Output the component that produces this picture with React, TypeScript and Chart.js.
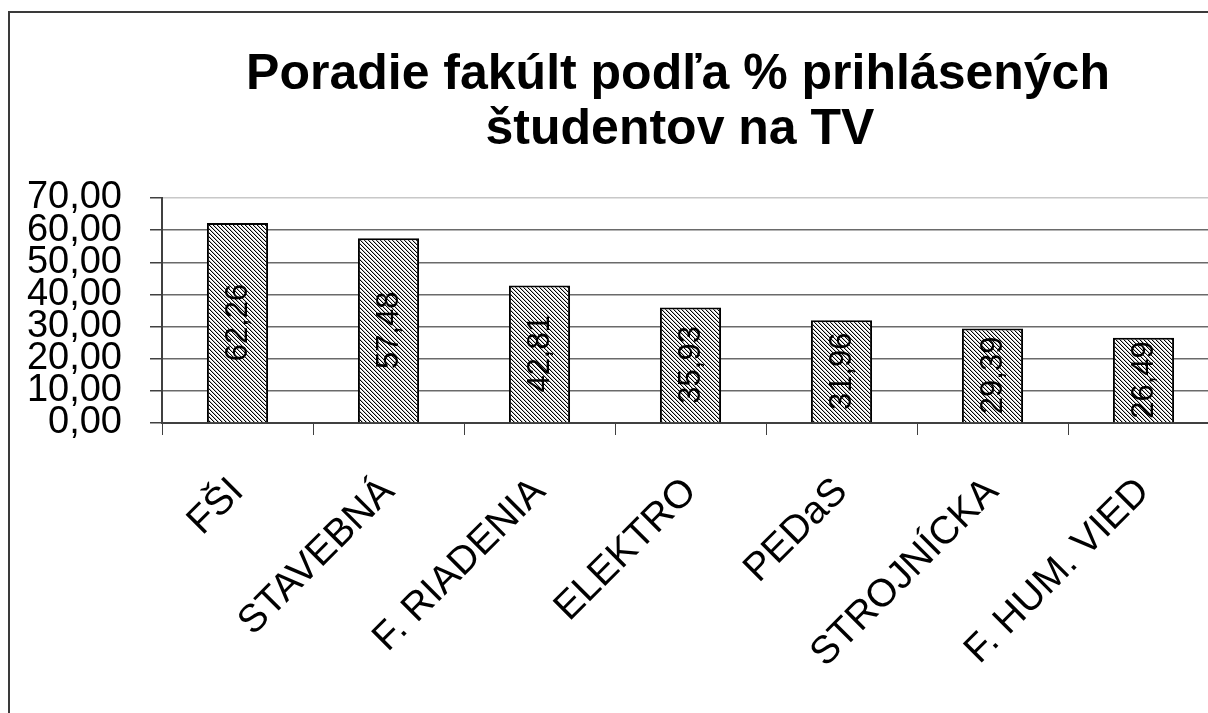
import React, { useEffect, useRef } from "react";
import { Chart, registerables } from "chart.js";

Chart.register(...registerables);

const titleLines = ["Poradie fakúlt podľa % prihlásených", "študentov na TV"];
const categories = ["FŠI", "STAVEBNÁ", "F. RIADENIA", "ELEKTRO", "PEDaS", "STROJNÍCKA", "F. HUM. VIED"];
const values = [62.26, 57.48, 42.81, 35.93, 31.96, 29.39, 26.49];
const yMin = 0;
const yMax = 70;
const yStep = 10;

const FONT = "'Liberation Sans', Arial, sans-serif";

function makeHatch(): CanvasPattern | string {
  const c = document.createElement("canvas");
  c.width = 4;
  c.height = 4;
  const g = c.getContext("2d");
  if (!g) return "#888";
  g.fillStyle = "#ffffff";
  g.fillRect(0, 0, 4, 4);
  for (let i = 0; i < 4; i++) {
    g.fillStyle = "#000000";
    g.fillRect(i, i, 1, 1);
    g.fillStyle = "#bdbdbd";
    g.fillRect((i + 1) % 4, i, 1, 1);
  }
  const p = g.createPattern(c, "repeat");
  return p || "#888";
}

const fmt = (v: number) => v.toFixed(2).replace(".", ",");

export default function App() {
  const ref = useRef<HTMLCanvasElement | null>(null);

  useEffect(() => {
    if (!ref.current) return;
    const hatch = makeHatch();

    const framePlugin = {
      id: "frameAndTitle",
      beforeDraw(chart: any) {
        const ctx = chart.ctx;
        ctx.save();
        ctx.fillStyle = "#ffffff";
        ctx.fillRect(0, 0, chart.width, chart.height);
        ctx.strokeStyle = "#3a3a3a";
        ctx.lineWidth = 2;
        ctx.beginPath();
        ctx.moveTo(1, chart.height + 5);
        ctx.lineTo(1, 4);
        ctx.lineTo(chart.width + 5, 4);
        ctx.stroke();
        ctx.restore();
      },
      afterDraw(chart: any) {
        const ctx = chart.ctx;
        ctx.save();
        ctx.fillStyle = "#000";
        ctx.font = `bold 50px ${FONT}`;
        ctx.textAlign = "center";
        ctx.textBaseline = "alphabetic";
        ctx.fillText(titleLines[0], 670, 81);
        ctx.fillText(titleLines[1], 672, 136);

        // data labels
        const meta = chart.getDatasetMeta(0);
        ctx.font = `31px ${FONT}`;
        ctx.textAlign = "center";
        ctx.textBaseline = "middle";
        meta.data.forEach((el: any, i: number) => {
          const cy = (el.y + el.base) / 2;
          ctx.save();
          ctx.translate(el.x, cy);
          ctx.rotate(-Math.PI / 2);
          ctx.fillText(fmt(values[i]), 0, 1);
          ctx.restore();
        });
        ctx.restore();
      },
    };

    const chart = new Chart(ref.current, {
      type: "bar",
      data: {
        labels: categories,
        datasets: [
          {
            data: values,
            backgroundColor: hatch as any,
            borderColor: "#000000",
            borderWidth: 2,
            barPercentage: 0.405,
            categoryPercentage: 1,
          },
        ],
      },
      options: {
        animation: false,
        responsive: false,
        devicePixelRatio: 1,
        layout: { padding: { top: 190, left: 0, right: 29, bottom: 0 } },
        plugins: {
          legend: { display: false },
          title: { display: false },
          tooltip: { enabled: false },
        },
        scales: {
          x: {
            offset: true,
            grid: {
              offset: true,
              drawOnChartArea: false,
              drawTicks: true,
              tickLength: 12,
              color: "#404040",
              lineWidth: 1,
            },
            border: { display: true, color: "#404040", width: 2 },
            ticks: {
              color: "#000",
              font: { family: FONT, size: 39 },
              minRotation: 45,
              maxRotation: 45,
              autoSkip: false,
              padding: 34,
            },
            afterFit(scale: any) {
              scale.height = 290;
            },
          },
          y: {
            min: yMin,
            max: yMax,
            grid: {
              color: (c: any) => (c.tick && c.tick.value === yMax ? "#c8c8c8" : "#6a6a6a"),
              lineWidth: 1.5,
              tickLength: 12,
              drawTicks: true,
              tickColor: "#404040",
            } as any,
            border: { display: true, color: "#404040", width: 2 },
            ticks: {
              stepSize: yStep,
              autoSkip: false,
              color: "#000",
              font: { family: FONT, size: 38 },
              padding: 28,
              callback: (v: any) => fmt(Number(v)),
            },
            afterFit(scale: any) {
              scale.width = 154;
            },
          },
        },
      },
      plugins: [framePlugin],
    });

    return () => chart.destroy();
  }, []);

  return (
    <div
      style={{
        position: "fixed",
        left: 8,
        top: 8,
        width: 1200,
        height: 705,
        overflow: "hidden",
      }}
    >
      <canvas ref={ref} width={1240} height={705} style={{ display: "block" }} />
    </div>
  );
}
